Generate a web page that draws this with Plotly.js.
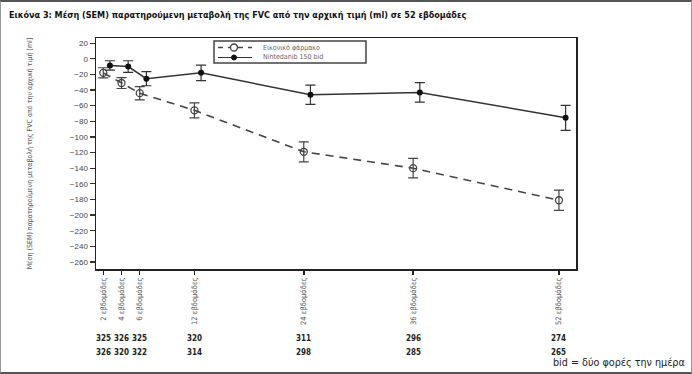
<!DOCTYPE html>
<html>
<head>
<meta charset="utf-8">
<script src="https://cdn.plot.ly/plotly-3.0.1.min.js"></script>
<style>
  html, body { margin: 0; padding: 0; background: #fff; }
  #wrap { position: relative; width: 692px; height: 374px; }
  #chart { width: 692px; height: 374px; }
  #frame { position: absolute; left: 0; top: 0; width: 692px; height: 374px; box-sizing: border-box;
           border-top: 2px solid #555; border-bottom: 2px solid #555; border-right: 1px solid #999; border-left: 1px solid #999;
           pointer-events: none; }
</style>
</head>
<body>
<div id="wrap">
  <div id="chart"></div>
  <div id="frame"></div>
</div>
<script>
// ---- data ----
const weeks = [2, 4, 6, 12, 24, 36, 52];
const weekLabels = ["2 εβδομάδες", "4 εβδομάδες", "6 εβδομάδες", "12 εβδομάδες", "24 εβδομάδες", "36 εβδομάδες", "52 εβδομάδες"];
const placeboMean = [-18, -31, -44, -66, -119, -140, -181];
const placeboSEM = [6.5, 7, 8.5, 9.5, 12.8, 12.5, 13];
const nintedanibMean = [-8.5, -10, -25.5, -18, -46, -43, -75.5];
const nintedanibSEM = [6, 7.5, 9, 10, 12.3, 12.5, 16];
const nPlacebo = [325, 326, 325, 320, 311, 296, 274];
const nNintedanib = [326, 320, 322, 314, 298, 285, 265];
const yTicks = [20, 0, -20, -40, -60, -80, -100, -120, -140, -160, -180, -200, -220, -240, -260];

const seriesNames = ["Εικονικό φάρμακο", "Nintedanib 150 bid"];
const titleText = "Εικόνα 3: Μέση (SEM) παρατηρούμενη μεταβολή της FVC από την αρχική τιμή (ml) σε 52 εβδομάδες";
const yTitleText = "Μέση (SEM) παρατηρούμενη μεταβολή της FVC από την αρχική τιμή [ml]";
const footText = "bid = δύο φορές την ημέρα";

// small horizontal dodge so the two series' error bars don't overlap
const dodge = 0.73;

const narrow = "DejaVu Sans Condensed, Liberation Sans Narrow, sans-serif";
const colP = "#444", colN = "#222";

const traces = [
  {
    type: "scatter", mode: "lines+markers", name: seriesNames[0],
    x: weeks, y: placeboMean,
    error_y: { type: "data", array: placeboSEM, visible: true, color: colP, thickness: 1.2, width: 5 },
    line: { color: colP, width: 1.6, dash: "8px,6px" },
    marker: { symbol: "circle-open", size: 7, color: colP, line: { width: 1.3, color: colP } }
  },
  {
    type: "scatter", mode: "lines+markers", name: seriesNames[1],
    x: weeks.map(w => w + dodge), y: nintedanibMean,
    error_y: { type: "data", array: nintedanibSEM, visible: true, color: "#333", thickness: 1.2, width: 5 },
    line: { color: "#333", width: 1.5 },
    marker: { symbol: "circle", size: 6, color: "#111" }
  }
];

// pixel -> paper helpers (plot area is x 96..576, y 38..269)
const px = v => (v - 96) / 480;
const py = v => (269 - v) / 231;

const annotations = [];
weeks.forEach((w, i) => {
  annotations.push({ xref: "x", yref: "paper", x: w, y: py(338), text: String(nPlacebo[i]),
    showarrow: false, xanchor: "center", yanchor: "middle", font: { family: narrow, size: 8, color: "#222", weight: "bold" } });
  annotations.push({ xref: "x", yref: "paper", x: w, y: py(352), text: String(nNintedanib[i]),
    showarrow: false, xanchor: "center", yanchor: "middle", font: { family: narrow, size: 8, color: "#222", weight: "bold" } });
});
annotations.push({ xref: "paper", yref: "paper", x: px(687), y: py(362), text: footText,
  showarrow: false, xanchor: "right", yanchor: "middle", font: { family: narrow, size: 10.7, color: "#222" } });

// compact legend (box, line samples, markers, labels)
const legRows = [py(47.5), py(57.5)];
const shapes = [
  { type: "rect", xref: "paper", yref: "paper", x0: px(214), x1: px(366), y0: py(41), y1: py(63),
    line: { color: "#444", width: 1.5 }, fillcolor: "#fff", layer: "above" },
  { type: "line", xref: "paper", yref: "paper", x0: px(218), x1: px(252), y0: legRows[0], y1: legRows[0],
    line: { color: colP, width: 1.5, dash: "5px,5px" }, layer: "above" },
  { type: "line", xref: "paper", yref: "paper", x0: px(218), x1: px(252), y0: legRows[1], y1: legRows[1],
    line: { color: "#333", width: 1.2 }, layer: "above" },
  { type: "circle", xref: "paper", yref: "paper", xsizemode: "pixel", ysizemode: "pixel",
    xanchor: px(234), yanchor: legRows[0], x0: -3.5, x1: 3.5, y0: -3.5, y1: 3.5,
    line: { color: colP, width: 1.3 }, fillcolor: "#fff", layer: "above" },
  { type: "circle", xref: "paper", yref: "paper", xsizemode: "pixel", ysizemode: "pixel",
    xanchor: px(234), yanchor: legRows[1], x0: -2.5, x1: 2.5, y0: -2.5, y1: 2.5,
    line: { color: "#111", width: 1 }, fillcolor: "#111", layer: "above" }
];
seriesNames.forEach((n, i) => {
  annotations.push({ xref: "paper", yref: "paper", x: px(261), y: legRows[i], text: n, showarrow: false,
    xanchor: "left", yanchor: "middle", font: { family: narrow, size: 7, color: "#666" } });
});

const layout = {
  width: 692, height: 374,
  margin: { l: 96, r: 116, t: 38, b: 105 },
  paper_bgcolor: "#fff", plot_bgcolor: "#fff",
  showlegend: false,
  title: {
    text: titleText, xref: "container", yref: "container",
    x: 9 / 692, xanchor: "left", y: 1 - 15 / 374, yanchor: "middle",
    font: { family: narrow, size: 9, color: "#111", weight: "bold" }
  },
  xaxis: {
    range: [1.2, 53.87],
    tickmode: "array", tickvals: weeks, ticktext: weekLabels,
    tickangle: -90, ticks: "outside", ticklen: 4, tickwidth: 1.5, tickcolor: "#222",
    tickfont: { family: narrow, size: 7.5, color: "#555" },
    showgrid: false, zeroline: false,
    showline: true, linecolor: "#222", linewidth: 1.5, mirror: true
  },
  yaxis: {
    range: [-269, 26.6],
    tickmode: "array", tickvals: yTicks,
    ticks: "outside", ticklen: 5, tickwidth: 1.2, tickcolor: "#333",
    tickfont: { family: "Liberation Sans, Arial, sans-serif", size: 8, color: "#444" },
    showgrid: false, zeroline: false,
    showline: true, linecolor: "#222", linewidth: 1.5, mirror: true,
    title: { text: yTitleText, standoff: 36, font: { family: narrow, size: 7, color: "#555" } }
  },
  shapes: shapes,
  annotations: annotations
};

Plotly.newPlot("chart", traces, layout, { staticPlot: true, displayModeBar: false });
</script>
</body>
</html>
